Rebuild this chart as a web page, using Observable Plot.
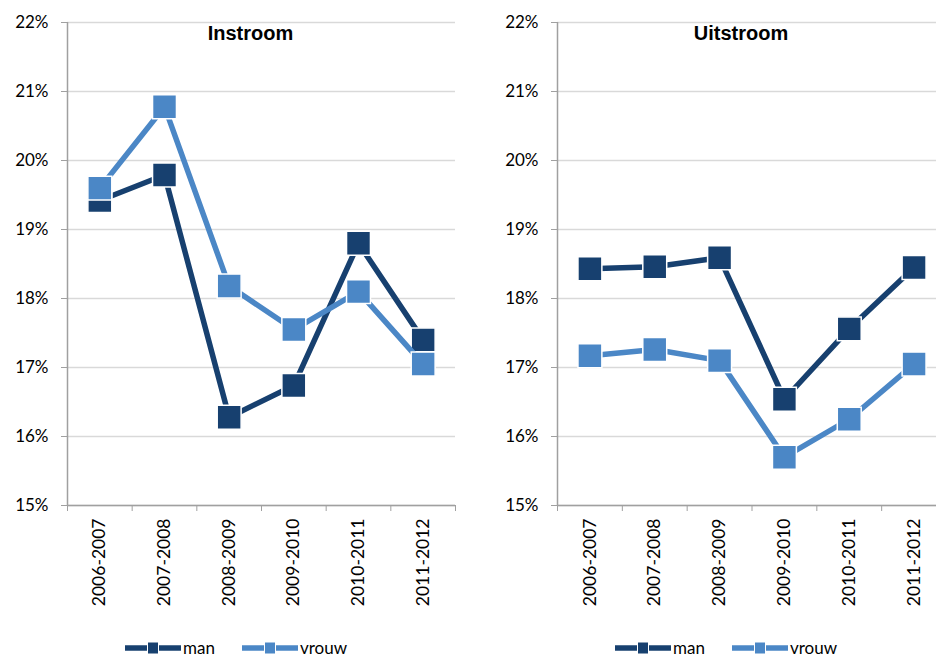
<!DOCTYPE html>
<html>
<head>
<meta charset="utf-8">
<script src="https://cdn.jsdelivr.net/npm/d3@7"></script>
<script src="https://cdn.jsdelivr.net/npm/@observablehq/plot@0.6"></script>
<style>
  html, body { margin: 0; padding: 0; background: #fff; }
  #wrap { position: relative; width: 936px; height: 657px; overflow: hidden; font-family: Lato, "Open Sans", sans-serif; }
  .panel { position: absolute; top: 0; }
  .legend { position: absolute; top: 638px; display: flex; align-items: center; font-size: 17px; line-height: 20px; color: #000; }
  .legend .item { display: flex; align-items: center; margin-right: 27px; }
  .legend svg { display: block; margin-right: 2px; }
</style>
</head>
<body>
<div id="wrap"></div>
<script>
const categories = ["2006-2007", "2007-2008", "2008-2009", "2009-2010", "2010-2011", "2011-2012"];
const seriesNames = ["man", "vrouw"];
const instroomMan   = [19.42, 19.79, 16.28, 16.74, 18.80, 17.40];
const instroomVrouw = [19.60, 20.78, 18.18, 17.55, 18.10, 17.05];
const uitstroomMan   = [18.43, 18.46, 18.59, 16.54, 17.56, 18.45];
const uitstroomVrouw = [17.17, 17.26, 17.10, 15.70, 16.25, 17.05];
const yTicks = [15, 16, 17, 18, 19, 20, 21, 22];
const titles = ["Instroom", "Uitstroom"];

const colors = {man: "#17406f", vrouw: "#4b87c6"};

function panel(title, man, vrouw, opts) {
  const data = [];
  categories.forEach((c, i) => {
    data.push({cat: c, i, series: "man", v: man[i]});
    data.push({cat: c, i, series: "vrouw", v: vrouw[i]});
  });
  const idx = d3.range(categories.length);
  const bounds = d3.range(categories.length + 1).map(k => k - 0.5);
  const marks = [
    Plot.gridY(yTicks, {stroke: "#d9d9d9", strokeOpacity: 1, strokeWidth: 1.5}),
    Plot.ruleY([15], {stroke: "#a0a0a0", strokeWidth: 1.5}),
    Plot.ruleX([-0.5], {stroke: "#a0a0a0", strokeWidth: 1.5}),
    Plot.axisY({ticks: yTicks, label: null, tickFormat: d => d + "%", tickSize: 6, tickPadding: 13, stroke: "#a0a0a0", fill: "#000", fontSize: 17}),
    Plot.axisX({ticks: bounds, label: null, tickSize: 6, tickFormat: () => "", stroke: "#a0a0a0"}),
    Plot.axisX({ticks: idx, label: null, tickSize: 0, tickPadding: 13, tickRotate: -90, tickFormat: i => categories[i], fill: "#000", fontSize: 17.5})
  ];
  for (const s of seriesNames) {
    const d = data.filter(r => r.series === s);
    marks.push(Plot.line(d, {x: "i", y: "v", stroke: colors[s], strokeWidth: 5.5, strokeLinejoin: "miter"}));
    marks.push(Plot.dot(d, {x: "i", y: "v", symbol: "square", r: 13.5, fill: colors[s], stroke: "#fff", strokeWidth: 1.5}));
  }
  marks.push(Plot.text([title], {frameAnchor: "top", dx: opts.titleDx, dy: 3, text: d => d, fontWeight: "bold", fontFamily: "Liberation Sans, Arial, sans-serif", fontSize: 20, fill: "#000"}));
  return Plot.plot({
    width: opts.width,
    height: 620,
    marginLeft: opts.marginLeft,
    marginRight: opts.marginRight,
    marginTop: 22,
    marginBottom: 115,
    x: {domain: [-0.5, 5.5], axis: null},
    y: {domain: [15, 22], axis: null},
    style: {fontFamily: "Lato, 'Open Sans', sans-serif", fontSize: "17px", color: "#000", background: "transparent", overflow: "visible"},
    marks
  });
}

const wrap = document.getElementById("wrap");

const left = panel(titles[0], instroomMan, instroomVrouw, {width: 468, marginLeft: 67, marginRight: 13, titleDx: -11});
left.classList.add("panel");
left.style.left = "0px";
wrap.appendChild(left);

const right = panel(titles[1], uitstroomMan, uitstroomVrouw, {width: 478, marginLeft: 89, marginRight: 0, titleDx: -11});
right.classList.add("panel");
right.style.left = "468px";
wrap.appendChild(right);

function legend(x) {
  const div = document.createElement("div");
  div.className = "legend";
  div.style.left = x + "px";
  for (const s of seriesNames) {
    const item = document.createElement("div");
    item.className = "item";
    item.innerHTML = `<svg width="56" height="16"><line x1="0" x2="56" y1="8" y2="8" stroke="${colors[s]}" stroke-width="5.5"/><rect x="22.5" y="2" width="11" height="12" fill="${colors[s]}" stroke="#fff" stroke-width="1"/></svg><span>${s}</span>`;
    div.appendChild(item);
  }
  wrap.appendChild(div);
}
legend(125);
legend(615);
</script>
</body>
</html>
